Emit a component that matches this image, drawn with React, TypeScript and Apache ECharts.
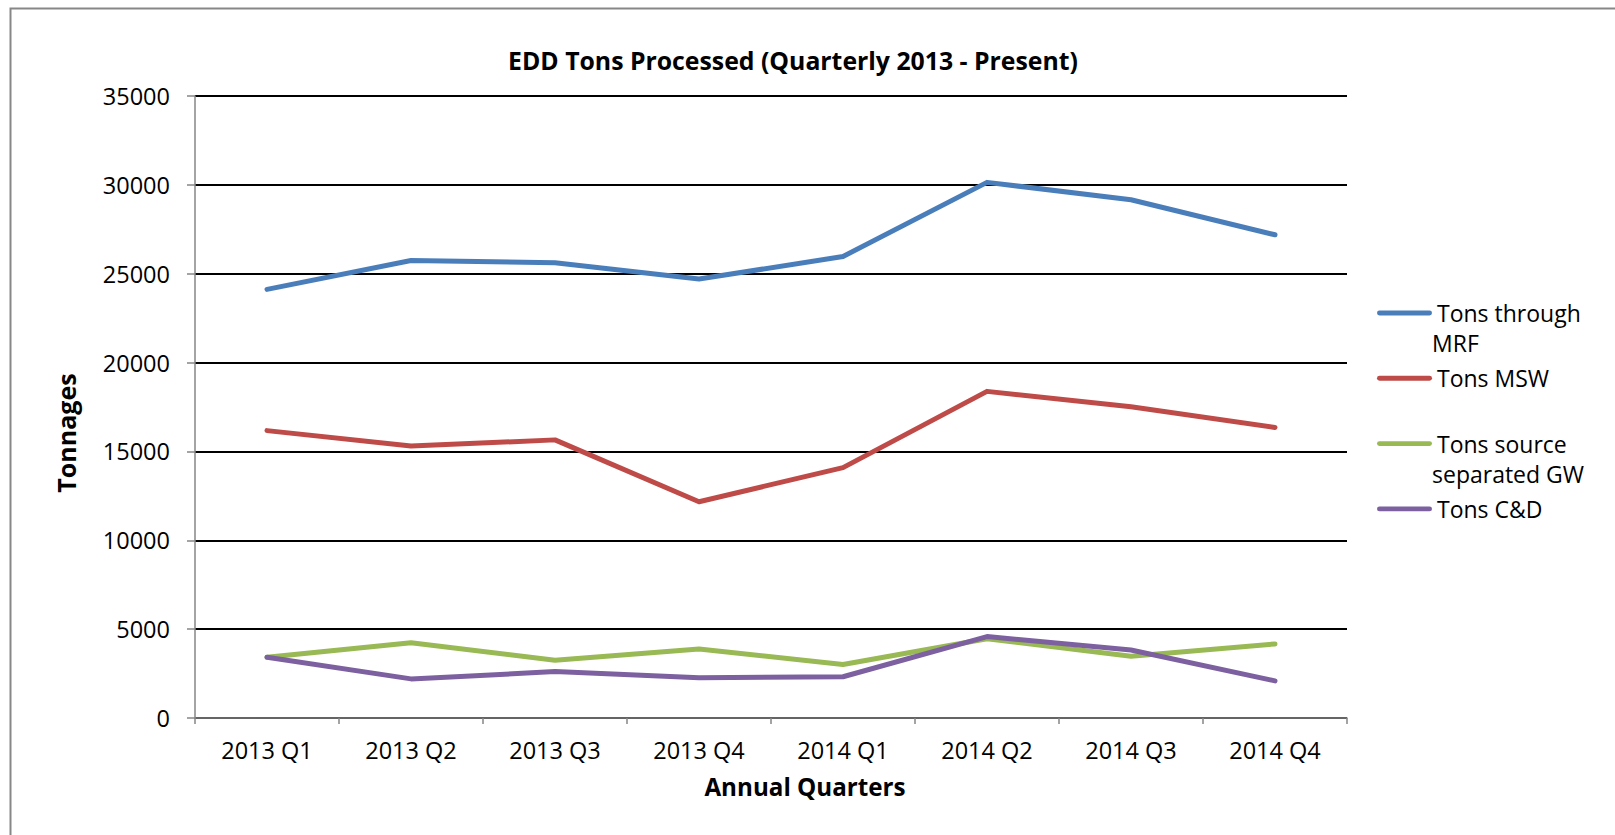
import React, { useEffect, useRef } from "react";
import * as echarts from "echarts";

const categories = ["2013 Q1", "2013 Q2", "2013 Q3", "2013 Q4", "2014 Q1", "2014 Q2", "2014 Q3", "2014 Q4"];
const seriesNames = ["Tons through MRF", "Tons MSW", "Tons source separated GW", "Tons C&D"];
const legendFirstLines = ["Tons through", "Tons MSW", "Tons source", "Tons C&D"];
const legendSecondLines = ["MRF", "", "separated GW", ""];
const tonsMRF = [24120, 25740, 25620, 24700, 25970, 30140, 29160, 27190];
const tonsMSW = [16170, 15300, 15650, 12170, 14090, 18380, 17510, 16350];
const tonsGW = [3420, 4230, 3250, 3880, 3010, 4460, 3480, 4170];
const tonsCD = [3420, 2200, 2610, 2260, 2320, 4580, 3830, 2090];
const colors = ["#4A7EBB", "#BE4B48", "#98B954", "#7D60A0"];

const FONT = "'Open Sans', 'Noto Sans', sans-serif";

export default function App() {
  const ref = useRef<HTMLDivElement>(null);
  useEffect(() => {
    if (!ref.current) return;
    const chart = echarts.init(ref.current, undefined, { renderer: "svg" });
    const data = [tonsMRF, tonsMSW, tonsGW, tonsCD];
    chart.setOption({
      animation: false,
      backgroundColor: "#ffffff",
      textStyle: { fontFamily: FONT },
      grid: { left: 195, top: 96, width: 1152, height: 622, containLabel: false },
      legend: {
        orient: "vertical",
        left: 1372,
        top: 296,
        itemWidth: 55,
        itemHeight: 14,
        itemGap: 41.3,
        data: seriesNames.map((n) => ({ name: n, icon: "path://M2,0 L53,0 A2.5,2.5 0 0 1 53,5 L2,5 A2.5,2.5 0 0 1 2,0 Z" })),
        formatter: (name: string) => legendFirstLines[seriesNames.indexOf(name)],
        textStyle: { fontFamily: FONT, fontSize: 23, color: "#000", lineHeight: 24 },
      },
      xAxis: {
        type: "category",
        data: categories,
        boundaryGap: true,
        z: 5,
        axisLine: { show: true, lineStyle: { color: "#868686", width: 1.5 } },
        axisTick: { show: true, length: 6, lineStyle: { color: "#868686", width: 1.5 } },
        axisLabel: { margin: 20, fontFamily: FONT, fontSize: 23.5, lineHeight: 24, color: "#000" },
        splitLine: { show: false },
      },
      yAxis: {
        type: "value",
        min: 0,
        max: 35000,
        interval: 5000,
        axisLine: { show: true, lineStyle: { color: "#868686", width: 1.5 } },
        axisTick: { show: true, length: 8, lineStyle: { color: "#868686", width: 1.5 } },
        axisLabel: { margin: 25, fontFamily: FONT, fontSize: 23.5, color: "#000", formatter: (v: number) => String(v) },
        splitLine: { show: true, lineStyle: { color: "#000", width: 2 } },
      },
      graphic: [
        { type: "rect", silent: true, shape: { x: 10.5, y: 8.5, width: 1800, height: 1000 }, style: { fill: "none", stroke: "#878787", lineWidth: 2 } },
        { type: "text", x: 793, y: 60, style: { text: "EDD Tons Processed (Quarterly 2013 - Present)", fontFamily: FONT, fontWeight: "bold", fontSize: 24.8, fill: "#000", textAlign: "center", textVerticalAlign: "middle" } },
        { type: "text", x: 805, y: 786, style: { text: "Annual Quarters", fontFamily: FONT, fontWeight: "bold", fontSize: 24.2, fill: "#000", textAlign: "center", textVerticalAlign: "middle" } },
        { type: "text", x: 66, y: 433, rotation: Math.PI / 2, style: { text: "Tonnages", fontFamily: FONT, fontWeight: "bold", fontSize: 25, fill: "#000", textAlign: "center", textVerticalAlign: "middle" } },
        ...legendSecondLines
          .map((t, i) => ({ t, i }))
          .filter((o) => o.t)
          .map((o) => ({
            type: "text",
            x: 1432,
            y: [342.5, 0, 473.5, 0][o.i],
            style: { text: o.t, fontFamily: FONT, fontSize: 23, fill: "#000", textAlign: "left", textVerticalAlign: "middle" },
          })),
      ],
      series: seriesNames.map((name, i) => ({
        name,
        type: "line",
        data: data[i],
        symbol: "none",
        color: colors[i],
        lineStyle: { color: colors[i], width: 5, cap: "round", join: "round" },
        z: 3 + i,
      })),
    });
    return () => chart.dispose();
  }, []);
  return (
    <div style={{ position: "fixed", left: 0, top: 0, width: 1615, height: 835, background: "#fff" }}>
      <div ref={ref} style={{ width: 1615, height: 835 }} />
    </div>
  );
}
